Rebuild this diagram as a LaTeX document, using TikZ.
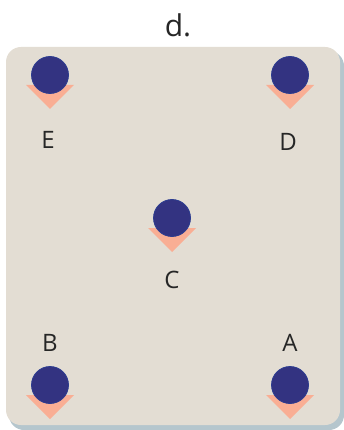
\documentclass[tikz,border=0pt]{standalone}
\usepackage{fontspec}
\setmainfont{Open Sans}
\usetikzlibrary{positioning,calc}
\definecolor{panelbg}{HTML}{E3DDD3}
\definecolor{panelshadow}{HTML}{B5C6CD}
\definecolor{ballblue}{HTML}{333381}
\definecolor{ballrim}{HTML}{2C3C90}
\definecolor{salmon}{HTML}{F9AE94}
\tikzset{
  panel/.style  = {fill=panelbg, rounded corners=15pt},
  shade/.style  = {fill=panelshadow, rounded corners=15pt},
  ball/.style   = {circle, fill=ballblue, draw=ballrim, line width=0.8pt,
                   minimum size=37pt, inner sep=0pt},
  wedge/.style  = {fill=salmon},
  ptlbl/.style  = {font=\fontsize{24}{26}\selectfont, text=black!85, inner sep=0pt},
  ttl/.style    = {font=\fontsize{30}{32}\selectfont, text=black!85, inner sep=0pt}
}
\begin{document}
\begin{tikzpicture}[x=1pt, y=-1pt]
\useasboundingbox (0,0) rectangle (344,430);
% ---- panel ----
\fill[shade] (9,51) rectangle (344,430);
\fill[panel] (6,47) rectangle (340,425);
\node[ttl] (title) at (178,25) {d.};

% ---- charges: wedge under each ball ----
\foreach \nm/\x/\y in {E/50/75, D/290/75, C/172/218, B/50/385, A/290/385}{
  \fill[wedge] (\x-24,\y+10) -- (\x+24,\y+10) -- (\x,\y+34) -- cycle;
  \node[ball] (\nm) at (\x,\y) {};
}

% ---- labels ----
\node[ptlbl] (lblE) at (48,140) {E};
\node[ptlbl] (lblD) at (288,142) {D};
\node[ptlbl] (lblC) at (172,280) {C};
\node[ptlbl] (lblB) at (50,343) {B};
\node[ptlbl] (lblA) at (290,343) {A};
\end{tikzpicture}
\end{document}
